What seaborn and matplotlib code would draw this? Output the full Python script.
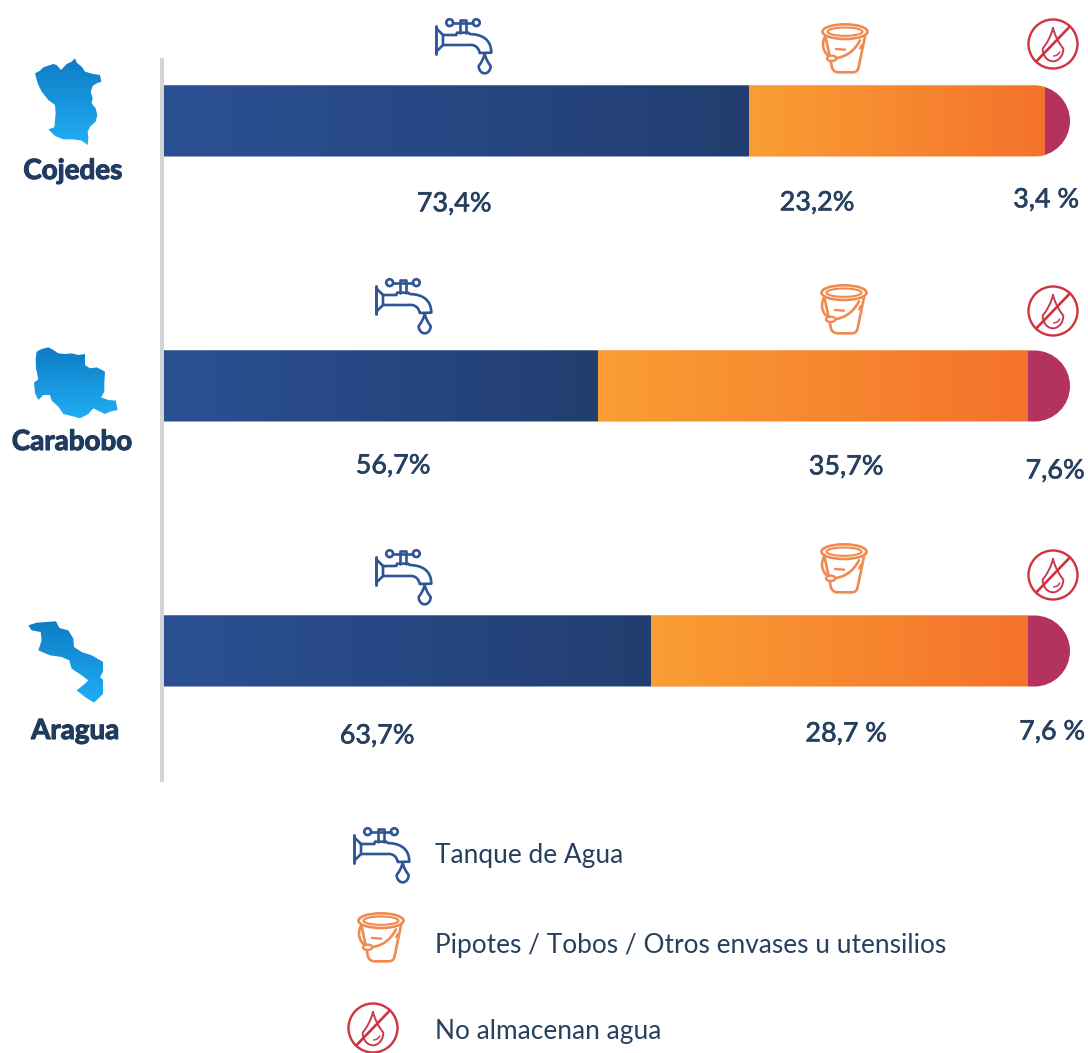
import numpy as np
import pandas as pd
import seaborn as sns
import matplotlib.pyplot as plt
import matplotlib.patheffects as pe
from matplotlib.patches import Circle, Ellipse, PathPatch, Polygon
from matplotlib.path import Path

estados = ['Cojedes', 'Carabobo', 'Aragua']
# printed values
tanque = [73.4, 56.7, 63.7]
pipotes = [23.2, 35.7, 28.7]
no_almacenan = [3.4, 7.6, 7.6]
etiquetas_tanque = ['73,4%', '56,7%', '63,7%']
etiquetas_pipotes = ['23,2%', '35,7%', '28,7 %']
etiquetas_no = ['3,4 %', '7,6%', '7,6 %']
# lengths of the segments as drawn in the picture: not to scale with the printed values
largo_tanque = [585, 434, 487]
largo_pipotes = [296, 430, 377]
largo_no = [25, 42, 42]
leyenda = ['Tanque de Agua', 'Pipotes / Tobos / Otros envases u utensilios', 'No almacenan agua']

AZUL = '#1f3b60'
FUENTE = ['Lato', 'DejaVu Sans']

sns.set_theme(style='white')
plt.rcParams['font.family'] = FUENTE

fig = plt.figure(figsize=(10.88, 10.53), dpi=100)
ax = fig.add_axes([0, 0, 1, 1])

df = pd.DataFrame({'estado': estados, 'a': largo_tanque, 'b': largo_pipotes, 'c': largo_no})
df['a_b'] = df['a'] + df['b']
df['total'] = df['a_b'] + df['c']

kw = dict(data=df, y='estado', saturation=1, width=0.268, orient='h', linewidth=0, ax=ax)
sns.barplot(x='a', color='#264887', **kw)
sns.barplot(x='b', color='#f6842d', left=df['a'].values, **kw)
sns.barplot(x='c', color='#b3325f', left=df['a_b'].values, **kw)
ax.set_xlim(-164, 924)
ax.set_ylim((1053 - 121) / 265, -121 / 265)
ax.axis('off')

# overlay in picture pixels for the icons and texts
ov = fig.add_axes([0, 0, 1, 1], facecolor='none')
ov.set_xlim(0, 1088)
ov.set_ylim(1053, 0)
ov.axis('off')


def gradiente(a, extent, c1, c2, clip, vertical=False, z=3):
    cmap = plt.matplotlib.colors.LinearSegmentedColormap.from_list('g', [c1, c2])
    g = np.linspace(0, 1, 256).reshape(-1, 1) if vertical else np.linspace(0, 1, 256).reshape(1, -1)
    im = a.imshow(g, extent=extent, cmap=cmap, aspect='auto', origin='upper', zorder=z)
    im.set_clip_path(clip)
    return im


def pildora(x0, x1, y0, y1):
    r = (y1 - y0) / 2
    k = 0.5523 * r
    verts = [(x0, y0), (x1 - r, y0), (x1 - r + k, y0), (x1, y0 + r - k), (x1, y0 + r),
             (x1, y0 + r + k), (x1 - r + k, y1), (x1 - r, y1), (x0, y1), (x0, y0)]
    codes = [Path.MOVETO, Path.LINETO, Path.CURVE4, Path.CURVE4, Path.CURVE4,
             Path.CURVE4, Path.CURVE4, Path.CURVE4, Path.LINETO, Path.CLOSEPOLY]
    return Path(verts, codes)


# rounded end and gradients on top of the seaborn bars
for i in range(3):
    y0, y1 = 121 + 265 * i - 35.5, 121 + 265 * i + 35.5
    borde = PathPatch(pildora(164, 164 + df['total'][i], y0, y1), fc='none', ec='none', transform=ov.transData)
    ov.add_patch(borde)
    for p in ax.patches:
        if abs(p.get_y() + p.get_height() / 2 - i) < 0.01:
            p.set_clip_path(borde)
    fin_a = 164 + df['a'][i]
    fin_b = 164 + df['a_b'][i]
    gradiente(ov, (164, fin_a, y1, y0), '#2b5094', '#223e70', borde)
    gradiente(ov, (fin_a, fin_b, y1, y0), '#fa9e34', '#f4722b', borde)
    ov.set_xlim(0, 1088)
    ov.set_ylim(1053, 0)

ov.plot([162, 162], [58, 782], color='#d4d4d4', lw=2.9, solid_capstyle='butt')


def linea(puntos, ox, oy, color, lw=1.9, s=1 / 3):
    pts = np.array(puntos, dtype=float) * s + [ox, oy]
    ov.plot(pts[:, 0], pts[:, 1], color=color, lw=lw, solid_capstyle='round', solid_joinstyle='round')


def curva(p0, p1, p2, n=12):
    t = np.linspace(0, 1, n).reshape(-1, 1)
    return (1 - t) ** 2 * np.array(p0) + 2 * t * (1 - t) * np.array(p1) + t ** 2 * np.array(p2)


def gota(cx, cy, alto, ancho, ox, oy, color, lw, s=1 / 3):
    r = ancho / 2
    izq = curva((cx, cy), (cx - r * 0.3, cy + alto * 0.35), (cx - r, cy + alto * 0.62))
    der = curva((cx + r, cy + alto * 0.62), (cx + r * 0.3, cy + alto * 0.35), (cx, cy))
    t = np.linspace(np.pi, 0, 16)
    abajo = np.c_[cx + r * np.cos(t), cy + alto * 0.62 + (alto * 0.38) * np.sin(t)]
    linea(np.vstack([izq, abajo, der]), ox, oy, color, lw, s)


def grifo(ox, oy):
    c = '#2f5597'
    s = 1 / 3
    linea([(4, 24), (4, 108)], ox, oy, c, 2.1)
    linea([(4, 31), (24, 51)], ox, oy, c)
    linea([(4, 101), (24, 81)], ox, oy, c)
    arriba = curva((104, 48), (168, 50), (169, 104))
    abajo_c = curva((134, 104), (128, 78), (100, 81))
    linea(np.vstack([[(24, 51), (64, 51), (66, 44), (100, 44)], arriba, [(134, 105)], abajo_c,
                     [(24, 81), (24, 51)]]), ox, oy, c)
    linea([(74, 44), (74, 6), (94, 6), (94, 44)], ox, oy, c)
    linea([(54, 14), (114, 14)], ox, oy, c)
    for x in (44, 124):
        ov.add_patch(Circle((ox + x * s, oy + 14 * s), 3.4, fc='none', ec=c, lw=1.9))
    gota(149, 108, 58, 36, ox, oy, c, 1.9)


def balde(ox, oy):
    c = '#f08a4e'
    s = 1 / 3
    ov.add_patch(Ellipse((ox + 72 * s, oy + 26 * s), 135 * s, 44 * s, fc='none', ec=c, lw=1.9))
    ov.add_patch(Ellipse((ox + 72 * s, oy + 26 * s), 105 * s, 25 * s, fc='none', ec=c, lw=1.5))
    cuerpo = np.vstack([[(14, 44), (30, 118)], curva((32, 130), (36, 148), (54, 148)), [(95, 148)],
                        curva((95, 148), (110, 148), (113, 132)), [(132, 40)]])
    linea(cuerpo, ox, oy, c)
    linea(np.vstack([curva((12, 41), (-2, 70), (17, 94)), curva((42, 106), (92, 100), (117, 52))]), ox, oy, c)
    ov.add_patch(Ellipse((ox + 32 * s, oy + 106 * s), 28 * s, 16 * s, fc='white', ec=c, lw=1.7, zorder=4))
    linea([(45, 78), (72, 80)], ox, oy, c, 1.7)
    linea([(117, 76), (122, 66)], ox, oy, c, 1.5)


def sin_agua(cx, cy, r=24.5):
    c = '#d0323f'
    ov.add_patch(Circle((cx, cy), r, fc='none', ec=c, lw=1.7))
    gota(0, -48, 100, 62, cx, cy, '#c83a50', 1.4)
    linea([(50, -52), (-50, 52)], cx, cy, c, 1.9)
    linea(curva((20, 24), (16, 34), (2, 36), 8), cx, cy, '#c83a50', 1.1)


filas_grifo = [(435, 18), (375, 278), (375, 549)]
filas_balde = [(821, 23), (820, 284), (820, 543)]
filas_no = [(1053, 44), (1053, 311), (1053, 575)]
for i in range(3):
    grifo(*filas_grifo[i])
    balde(*filas_balde[i])
    sin_agua(*filas_no[i])
grifo(353, 827)
balde(357, 912)
sin_agua(373, 1028)

# maps (crop px at 3x, then crop origin)
mapa_cojedes = [(30, 70), (45, 62), (55, 52), (70, 47), (85, 42), (95, 45), (108, 60), (125, 42), (140, 35), (150, 25),
                (155, 38), (170, 50), (180, 65), (190, 68), (205, 72), (225, 75), (229, 95), (215, 100), (203, 108),
                (197, 125), (203, 145), (200, 160), (212, 175), (217, 195), (212, 215), (195, 230), (188, 245),
                (190, 265), (188, 285), (170, 272), (145, 268), (115, 268), (90, 258), (70, 238), (88, 232),
                (92, 190), (90, 165), (70, 150), (50, 125), (38, 100)]
mapa_carabobo = [(35, 35), (50, 27), (70, 22), (85, 30), (100, 40), (120, 42), (140, 40), (160, 45), (180, 42),
                 (180, 75), (195, 85), (215, 82), (240, 95), (238, 130), (238, 155), (228, 172), (250, 180),
                 (272, 182), (278, 210), (255, 215), (240, 222), (205, 205), (190, 222), (165, 235), (140, 228),
                 (115, 222), (100, 200), (80, 182), (75, 165), (55, 165), (40, 180), (30, 160), (27, 128),
                 (40, 118), (33, 85), (32, 55)]
mapa_aragua = [(25, 40), (50, 32), (108, 28), (118, 48), (145, 55), (160, 80), (162, 105), (185, 120), (215, 130),
               (250, 150), (250, 178), (240, 195), (250, 205), (250, 245), (222, 272), (195, 255), (170, 235),
               (195, 215), (205, 205), (185, 190), (155, 170), (148, 145), (125, 135), (90, 130), (55, 115),
               (65, 85), (62, 60), (35, 55)]
for puntos, origen in [(mapa_cojedes, (25, 50)), (mapa_carabobo, (25, 340)), (mapa_aragua, (20, 612))]:
    pts = np.array(puntos, dtype=float) / 3 + origen
    poly = Polygon(pts, closed=True, fc='none', ec='none', transform=ov.transData)
    ov.add_patch(poly)
    gradiente(ov, (pts[:, 0].min(), pts[:, 0].max(), pts[:, 1].max(), pts[:, 1].min()),
              '#0e7cc4', '#20aef5', poly, vertical=True)
ov.set_xlim(0, 1088)
ov.set_ylim(1053, 0)

pos_nombres = [(73, 171), (72, 442), (75, 731)]
for nombre, (x, y) in zip(estados, pos_nombres):
    t = ov.text(x, y, nombre, ha='center', va='center', fontsize=20, fontweight='bold', color=AZUL)
    t.set_path_effects([pe.withStroke(linewidth=0.8, foreground=AZUL)])

pos_tanque = [(454, 204), (393, 466), (377, 736)]
pos_pipotes = [(817, 203), (846, 467), (846, 734)]
pos_no = [(1046, 200), (1055, 471), (1052, 732)]
for textos, posiciones in [(etiquetas_tanque, pos_tanque), (etiquetas_pipotes, pos_pipotes), (etiquetas_no, pos_no)]:
    for t, (x, y) in zip(textos, posiciones):
        txt = ov.text(x, y, t, ha='center', va='center', fontsize=19.4, fontweight='medium', color='#26405f')
        txt.set_path_effects([pe.withStroke(linewidth=0.3, foreground='#26405f')])

for t, y in zip(leyenda, [855, 945, 1032]):
    ov.text(435, y, t, ha='left', va='center', fontsize=18.9, color='#26405f')

fig.savefig('out.png', dpi=100)
